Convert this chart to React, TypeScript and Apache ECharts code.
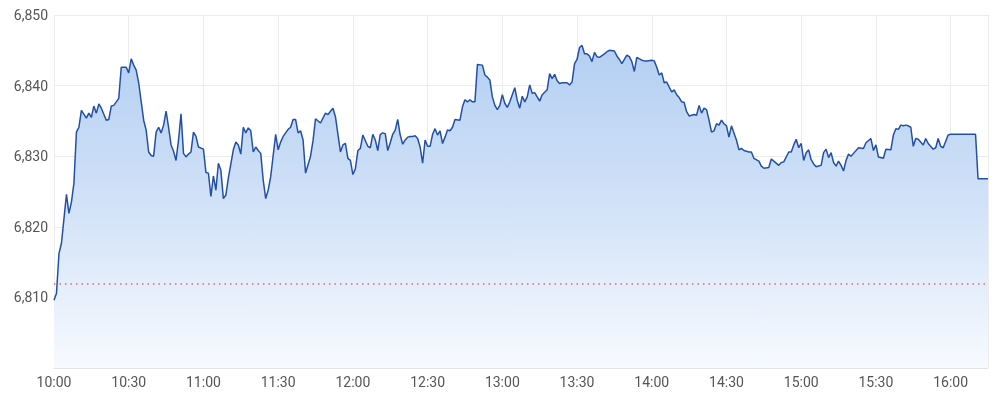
import React, { useEffect, useRef } from "react";
import * as echarts from "echarts";

// minutes after 10:00
const minutesFrom10 = [
  0, 1, 2, 3, 5, 6, 7, 8, 9, 10, 11, 13, 14, 15, 16, 17, 18, 19, 21, 22, 23, 24, 26, 27, 29, 30,
  31, 32, 33, 34, 36, 37, 38, 39, 40, 41, 42, 43, 44, 45, 46, 47, 48, 49, 50, 51, 52, 53, 54, 55,
  56, 57, 58, 60, 61, 62, 63, 64, 65, 66, 67, 68, 69, 70, 72, 73, 74, 75, 76, 77, 78, 79, 80, 81,
  82, 83, 84, 85, 86, 87, 88, 89, 90, 91, 92, 94, 95, 96, 97, 98, 99, 100, 101, 103, 104, 105, 107,
  109, 110, 112, 113, 115, 116, 117, 118, 119, 120, 121, 122, 123, 124, 126, 127, 128, 129, 130,
  131, 132, 133, 134, 135, 136, 137, 138, 139, 140, 141, 142, 143, 144, 145, 146, 147, 148, 149,
  150, 151, 152, 153, 154, 155, 156, 157, 158, 159, 160, 161, 163, 164, 165, 166, 167, 168, 169,
  170, 172, 173, 174, 175, 176, 177, 178, 179, 180, 181, 182, 183, 185, 186, 187, 188, 189, 190,
  191, 192, 193, 195, 196, 198, 199, 200, 201, 202, 203, 204, 206, 207, 208, 209, 210, 211, 212,
  213, 214, 215, 216, 217, 218, 219, 221, 222, 223, 225, 226, 227, 228, 230, 231, 232, 233, 234,
  236, 237, 238, 240, 241, 242, 243, 244, 245, 246, 247, 248, 249, 250, 251, 252, 253, 254, 255,
  256, 257, 258, 259, 260, 261, 262, 263, 264, 265, 266, 267, 268, 269, 270, 271, 272, 273, 274,
  275, 276, 277, 279, 280, 281, 283, 284, 285, 287, 288, 289, 291, 292, 293, 295, 296, 297, 298,
  299, 300, 301, 302, 303, 304, 305, 306, 307, 308, 309, 310, 311, 312, 313, 314, 315, 316, 317,
  318, 319, 320, 321, 323, 325, 326, 328, 329, 330, 331, 333, 334, 336, 337, 338, 339, 340, 341,
  342, 343, 344, 345, 346, 347, 349, 350, 351, 353, 354, 355, 356, 357, 359, 360, 370, 371, 375,
];

const prices = [
  6809.6, 6810.6, 6816.2, 6817.7, 6824.6, 6821.9, 6823.5, 6826.2, 6833.4, 6834.1, 6836.5, 6835.4,
  6836.1, 6835.5, 6837.1, 6836.1, 6837.4, 6836.8, 6835.1, 6835.2, 6837.1, 6837.2, 6838.2, 6842.6,
  6842.6, 6841.8, 6843.8, 6842.9, 6842.2, 6840.4, 6835.1, 6833.7, 6830.6, 6830.1, 6830.0, 6833.4,
  6834.1, 6833.3, 6834.4, 6836.4, 6834.1, 6831.6, 6830.7, 6829.4, 6832.3, 6836.0, 6830.4, 6829.9,
  6830.3, 6830.6, 6833.4, 6832.8, 6831.3, 6831.0, 6827.7, 6827.6, 6824.3, 6827.2, 6825.2, 6829.0,
  6828.0, 6824.0, 6824.5, 6826.9, 6830.9, 6832.0, 6831.6, 6830.3, 6834.1, 6833.3, 6834.0, 6833.6,
  6830.6, 6831.3, 6830.8, 6830.4, 6826.6, 6824.0, 6825.2, 6827.1, 6830.1, 6833.1, 6830.9, 6832.0,
  6832.8, 6833.8, 6834.1, 6835.2, 6835.2, 6833.3, 6833.6, 6832.3, 6827.6, 6830.0, 6832.2, 6835.3,
  6834.7, 6836.1, 6835.9, 6836.8, 6835.6, 6830.6, 6831.6, 6831.8, 6829.7, 6829.4, 6827.4, 6828.2,
  6830.8, 6831.1, 6833.0, 6831.4, 6831.2, 6833.1, 6832.3, 6830.8, 6833.1, 6833.3, 6833.2, 6830.8,
  6831.9, 6833.1, 6833.7, 6835.2, 6833.0, 6831.7, 6832.3, 6832.7, 6832.8, 6832.8, 6832.9, 6832.5,
  6831.3, 6829.0, 6832.3, 6831.4, 6831.4, 6833.1, 6833.9, 6833.0, 6833.6, 6831.8, 6832.7, 6833.7,
  6833.6, 6834.1, 6835.2, 6835.1, 6837.0, 6838.0, 6837.7, 6838.0, 6837.7, 6837.7, 6843.0, 6842.9,
  6841.5, 6841.2, 6840.8, 6838.4, 6837.2, 6836.6, 6837.2, 6838.7, 6837.5, 6836.9, 6837.7, 6839.7,
  6837.9, 6836.8, 6838.5, 6837.7, 6838.4, 6840.1, 6838.9, 6839.0, 6837.8, 6838.7, 6839.4, 6841.7,
  6841.0, 6841.6, 6840.7, 6840.3, 6840.4, 6840.4, 6840.1, 6840.5, 6843.1, 6843.7, 6845.4, 6845.7,
  6844.5, 6844.5, 6844.2, 6843.4, 6844.7, 6844.1, 6844.0, 6844.5, 6844.8, 6845.0, 6844.9, 6844.2,
  6843.7, 6843.1, 6844.3, 6844.1, 6843.4, 6842.0, 6844.0, 6843.6, 6843.5, 6843.5, 6843.6, 6843.5,
  6842.6, 6841.5, 6841.8, 6840.4, 6840.5, 6839.8, 6839.1, 6839.4, 6838.7, 6838.3, 6837.7, 6837.6,
  6836.3, 6835.7, 6835.8, 6835.9, 6835.8, 6837.2, 6836.1, 6836.8, 6836.6, 6835.1, 6833.4, 6833.6,
  6834.6, 6834.4, 6835.1, 6834.6, 6834.3, 6832.7, 6834.3, 6833.3, 6832.3, 6830.9, 6831.1, 6830.8,
  6830.6, 6830.6, 6829.7, 6829.3, 6828.6, 6828.3, 6828.4, 6829.6, 6829.3, 6828.7, 6829.1, 6829.2,
  6830.6, 6830.6, 6831.6, 6832.4, 6831.2, 6831.8, 6829.4, 6830.5, 6830.9, 6829.5, 6828.9, 6828.5,
  6828.6, 6828.7, 6830.5, 6831.0, 6829.8, 6830.5, 6829.1, 6828.6, 6829.3, 6828.7, 6827.9, 6829.4,
  6830.3, 6830.0, 6830.4, 6831.2, 6831.1, 6831.9, 6832.5, 6830.8, 6831.6, 6829.9, 6829.7, 6831.0,
  6830.9, 6833.0, 6833.9, 6833.8, 6834.4, 6834.3, 6834.4, 6834.3, 6834.1, 6831.4, 6832.5, 6832.4,
  6831.6, 6832.5, 6831.8, 6831.0, 6831.2, 6832.5, 6831.4, 6831.2, 6833.0, 6833.1, 6833.1, 6826.8,
  6826.8,
];

const previousClose = 6812.0;

const timeLabels = [
  "10:00", "10:30", "11:00", "11:30", "12:00", "12:30", "13:00",
  "13:30", "14:00", "14:30", "15:00", "15:30", "16:00",
];

const yTicks = [6800, 6810, 6820, 6830, 6840, 6850];

export default function App() {
  const ref = useRef<HTMLDivElement>(null);

  useEffect(() => {
    if (!ref.current) return;
    const chart = echarts.init(ref.current, null, { renderer: "svg" });
    const data = minutesFrom10.map((m, i) => [m, prices[i]]);
    const labelStyle = {
      color: "#555",
      fontSize: 14,
      fontFamily: "Roboto, 'Noto Sans', sans-serif",
    };
    chart.setOption({
      animation: false,
      grid: { left: 54, right: 12, top: 15, bottom: 32, containLabel: false },
      xAxis: {
        type: "value",
        min: 0,
        max: 375,
        interval: 30,
        axisLine: { show: true, lineStyle: { color: "#e3e3e3" } },
        axisTick: { show: false },
        splitLine: { show: true, lineStyle: { color: "#ececec" } },
        axisLabel: {
          ...labelStyle,
          margin: 7,
          showMaxLabel: false,
          formatter: (v: number) => timeLabels[Math.round(v / 30)] ?? "",
        },
      },
      yAxis: {
        type: "value",
        min: yTicks[0],
        max: yTicks[yTicks.length - 1],
        interval: 10,
        axisLine: { show: false },
        axisTick: { show: false },
        splitLine: { show: true, lineStyle: { color: "#ececec" } },
        axisLabel: {
          ...labelStyle,
          margin: 6,
          showMinLabel: false,
          formatter: (v: number) => v.toLocaleString("en-US"),
        },
      },
      series: [
        {
          type: "line",
          data,
          symbol: "none",
          lineStyle: { color: "#2350a4", width: 1.5 },
          areaStyle: {
            origin: "start",
            opacity: 1,
            color: new echarts.graphic.LinearGradient(0, 0, 0, 1, [
              { offset: 0, color: "#b4cff2" },
              { offset: 0.5, color: "#d2e2f8" },
              { offset: 1, color: "#f7faff" },
            ]),
          },
          markLine: {
            silent: true,
            symbol: "none",
            label: { show: false },
            lineStyle: { color: "#e06c6c", type: [1.5, 4], width: 1.5 },
            data: [{ yAxis: previousClose }],
          },
        },
      ],
    });
    return () => chart.dispose();
  }, []);

  return (
    <div
      ref={ref}
      style={{ position: "fixed", left: 0, top: 0, width: 1000, height: 400 }}
    />
  );
}
